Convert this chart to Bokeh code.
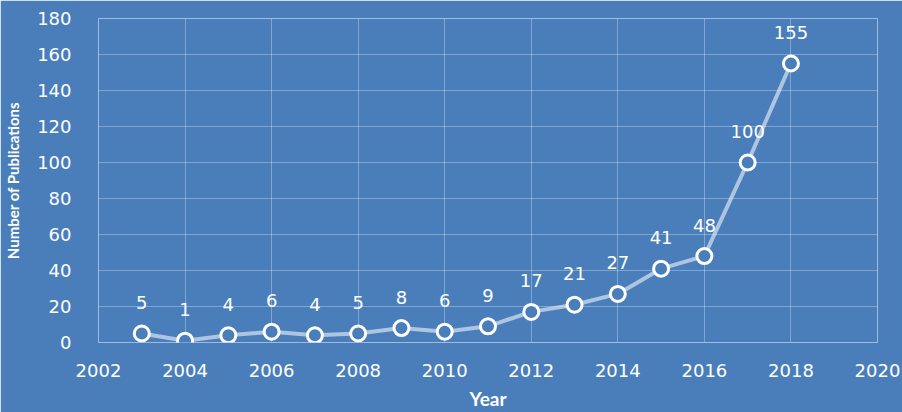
from bokeh.plotting import figure
from bokeh.models import Range1d, SingleIntervalTicker, ColumnDataSource
from bokeh.core.properties import value
from bokeh.embed import file_html
from bokeh.resources import INLINE

years = [2003, 2004, 2005, 2006, 2007, 2008, 2009, 2010, 2011, 2012, 2013, 2014, 2015, 2016, 2017, 2018]
counts = [5, 1, 4, 6, 4, 5, 8, 6, 9, 17, 21, 27, 41, 48, 100, 155]
labels = [str(c) for c in counts]

BG = "#4A7EBB"
FONT = "DejaVu Sans"
TFONT = "Lato"

src = ColumnDataSource(dict(x=years, y=counts, t=labels))

p = figure(width=902, height=412, output_backend="svg", toolbar_location=None,
           x_range=Range1d(2002, 2020), y_range=Range1d(0, 180),
           background_fill_color=BG, border_fill_color=BG,
           min_border_left=98, min_border_right=25, min_border_top=18, min_border_bottom=70)

p.outline_line_color = "white"
p.outline_line_alpha = 0.3

p.xaxis.ticker = SingleIntervalTicker(interval=2)
p.yaxis.ticker = SingleIntervalTicker(interval=20)
for ax in (p.xaxis[0], p.yaxis[0]):
    ax.axis_line_color = None
    ax.major_tick_line_color = None
    ax.minor_tick_line_color = None
    ax.major_label_text_color = "white"
    ax.major_label_text_font = FONT
    ax.major_label_text_font_size = "18px"
    ax.axis_label_text_color = "white"
    ax.axis_label_text_font = TFONT
    ax.axis_label_text_font_style = "bold"
p.xaxis.axis_label = "Year"
p.yaxis.axis_label = "Number of Publications"
p.xaxis.axis_label_text_font_size = "19px"
p.yaxis.axis_label_text_font_size = "15px"
p.xaxis.major_label_standoff = 15
p.xaxis.axis_label_standoff = 7
p.yaxis.major_label_standoff = 21
p.yaxis.axis_label_standoff = 12

for g in (p.xgrid[0], p.ygrid[0]):
    g.grid_line_color = "white"
    g.grid_line_alpha = 0.3
    g.grid_line_width = 1

p.line("x", "y", source=src, line_color="white", line_alpha=0.55, line_width=4)
p.scatter("x", "y", source=src, size=15, fill_color=BG, line_color="white", line_width=3)
p.text("x", "y", text="t", source=src, y_offset=-31, text_align="center", text_baseline="middle",
       text_color="white", text_font=value(FONT), text_font_size="18px")

open("out.html", "w").write(file_html(p, INLINE))
